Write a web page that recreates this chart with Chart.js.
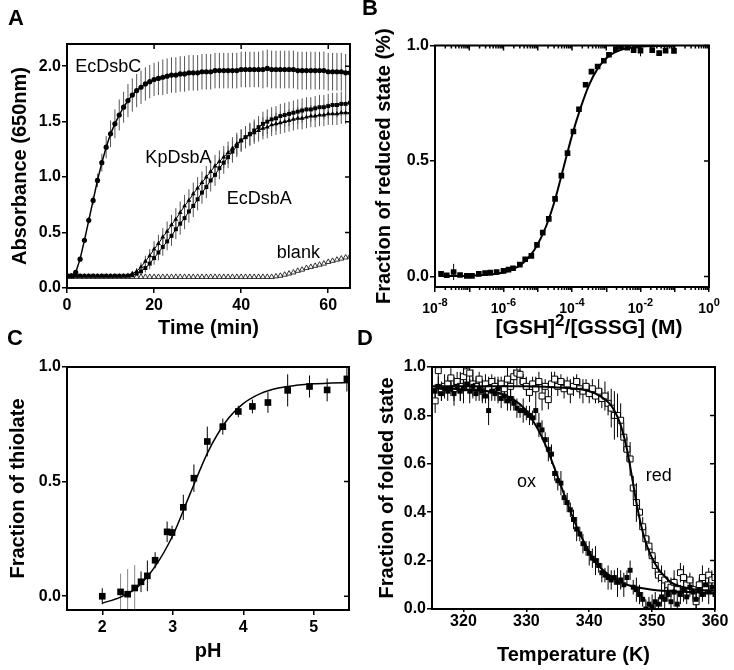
<!DOCTYPE html>
<html>
<head>
<meta charset="utf-8">
<script src="https://cdn.jsdelivr.net/npm/chart.js@4.4.1/dist/chart.umd.min.js"></script>
<style>
  body { margin: 0; background: #fff; width: 734px; height: 670px; position: relative; overflow: hidden; font-family: "Liberation Sans", Arial, sans-serif; }
  canvas { position: absolute; }
  .tag { position: absolute; font-weight: bold; font-size: 22px; line-height: 22px; color: #000; }
</style>
</head>
<body>
<canvas id="cA" width="367" height="340" style="left:0;top:0"></canvas>
<canvas id="cB" width="367" height="340" style="left:367px;top:0"></canvas>
<canvas id="cC" width="367" height="335" style="left:0;top:335px"></canvas>
<canvas id="cD" width="367" height="335" style="left:367px;top:335px"></canvas>
<div class="tag" style="left:8px;top:7px">A</div>
<div class="tag" style="left:362px;top:-3px">B</div>
<div class="tag" style="left:7px;top:327px">C</div>
<div class="tag" style="left:357px;top:327px">D</div>
<script>
const FONT = '"Liberation Sans", Arial, sans-serif';

// ---- A: absorbance at 650 nm vs time ----
const timeMin = [0,1,2,3,4,5,6,7,8,9,10,11,12,13,14,15,16,17,18,19,20,21,22,23,24,25,26,27,28,29,30,31,32,33,34,35,36,37,38,39,40,41,42,43,44,45,46,47,48,49,50,51,52,53,54,55,56,57,58,59,60,61,62,63,64,65];
const ecDsbC = [
  0.11,0.11,0.14,0.26,0.43,0.61,0.79,0.97,1.13,1.27,
  1.39,1.48,1.56,1.63,1.69,1.74,1.78,1.81,1.84,1.86,
  1.88,1.89,1.90,1.91,1.92,1.92,1.93,1.93,1.94,1.94,
  1.94,1.95,1.95,1.95,1.96,1.96,1.96,1.96,1.96,1.96,
  1.97,1.97,1.97,1.97,1.97,1.97,1.98,1.97,1.97,1.97,
  1.97,1.97,1.97,1.96,1.96,1.96,1.96,1.96,1.96,1.96,
  1.95,1.95,1.95,1.95,1.94,1.94];
const ecDsbCErr = [
  0.01,0.01,0.01,0.01,0.02,0.03,0.04,0.06,0.08,0.10,
  0.12,0.13,0.14,0.14,0.15,0.15,0.15,0.15,0.15,0.15,
  0.15,0.15,0.16,0.16,0.16,0.16,0.16,0.16,0.16,0.16,
  0.16,0.16,0.16,0.16,0.16,0.16,0.16,0.16,0.16,0.16,
  0.16,0.16,0.16,0.16,0.16,0.17,0.17,0.17,0.17,0.17,
  0.17,0.17,0.17,0.17,0.17,0.17,0.17,0.17,0.17,0.17,
  0.17,0.17,0.17,0.17,0.17,0.17];
const kpDsbA = [
  0.11,0.11,0.11,0.11,0.11,0.11,0.11,0.11,0.11,0.11,
  0.11,0.11,0.11,0.11,0.115,0.13,0.15,0.19,0.24,0.29,
  0.35,0.40,0.46,0.51,0.57,0.62,0.68,0.74,0.79,0.85,
  0.90,0.95,1.00,1.05,1.10,1.14,1.18,1.22,1.26,1.30,
  1.33,1.36,1.38,1.40,1.42,1.44,1.45,1.47,1.48,1.49,
  1.50,1.51,1.52,1.53,1.53,1.54,1.55,1.55,1.56,1.56,
  1.57,1.57,1.57,1.58,1.58,1.58];
const kpDsbAErr = [
  0.005,0.005,0.005,0.005,0.005,0.005,0.005,0.005,0.005,0.005,
  0.005,0.005,0.005,0.01,0.01,0.02,0.03,0.04,0.05,0.06,
  0.07,0.08,0.08,0.09,0.09,0.10,0.10,0.10,0.10,0.10,
  0.10,0.10,0.10,0.10,0.10,0.10,0.10,0.10,0.10,0.10,
  0.10,0.10,0.10,0.10,0.10,0.10,0.10,0.10,0.10,0.10,
  0.10,0.10,0.10,0.10,0.10,0.10,0.10,0.10,0.10,0.10,
  0.10,0.10,0.10,0.10,0.10,0.10];
const ecDsbA = [
  0.11,0.11,0.11,0.11,0.11,0.11,0.11,0.11,0.11,0.11,
  0.11,0.11,0.11,0.11,0.11,0.115,0.13,0.15,0.18,0.22,
  0.27,0.32,0.37,0.42,0.47,0.53,0.58,0.63,0.69,0.74,
  0.80,0.86,0.91,0.97,1.02,1.08,1.13,1.18,1.23,1.28,
  1.33,1.36,1.39,1.42,1.45,1.48,1.50,1.52,1.53,1.55,
  1.56,1.57,1.58,1.59,1.60,1.61,1.61,1.62,1.63,1.63,
  1.64,1.65,1.65,1.66,1.66,1.67];
const ecDsbAErr = [
  0.005,0.005,0.005,0.005,0.005,0.005,0.005,0.005,0.005,0.005,
  0.005,0.005,0.005,0.005,0.01,0.01,0.02,0.03,0.04,0.05,
  0.06,0.07,0.08,0.08,0.09,0.09,0.10,0.10,0.10,0.10,
  0.10,0.10,0.10,0.10,0.10,0.10,0.10,0.10,0.10,0.10,
  0.10,0.10,0.10,0.10,0.10,0.11,0.11,0.11,0.11,0.11,
  0.11,0.11,0.11,0.11,0.11,0.11,0.11,0.11,0.11,0.11,
  0.11,0.11,0.11,0.11,0.11,0.11];
const blank = [
  0.10,0.10,0.10,0.10,0.10,0.10,0.10,0.10,0.10,0.10,
  0.10,0.10,0.10,0.10,0.10,0.10,0.10,0.10,0.10,0.10,
  0.10,0.10,0.10,0.10,0.10,0.10,0.10,0.10,0.10,0.10,
  0.10,0.10,0.10,0.10,0.10,0.10,0.10,0.10,0.10,0.10,
  0.10,0.10,0.10,0.10,0.10,0.10,0.10,0.10,0.105,0.11,
  0.12,0.13,0.14,0.155,0.165,0.18,0.19,0.20,0.21,0.22,
  0.235,0.245,0.255,0.265,0.275,0.285];
const aXTicks = [0, 20, 40, 60];
const aYTicks = [0, 0.5, 1, 1.5, 2];

// ---- B: redox equilibrium with glutathione ----
const gshRatio = [1.5e-8,2.2e-8,3.5e-8,5.4e-8,8.5e-8,1.2e-7,1.9e-7,2.9e-7,4.1e-7,6.3e-7,
  1.0e-6,1.4e-6,1.9e-6,3.0e-6,4.3e-6,6.5e-6,9.5e-6,1.4e-5,2.1e-5,3.2e-5,
  4.9e-5,7.4e-5,1.1e-4,1.6e-4,2.5e-4,3.7e-4,5.6e-4,8.5e-4,1.2e-3,1.9e-3,
  2.7e-3,4.1e-3,6.3e-3,1.0e-2,2.2e-2,3.5e-2,5.4e-2,9.5e-2];
const reducedFrac = [0.012,0.006,0.02,0.007,0.003,0.003,0.012,0.015,0.017,0.02,
  0.025,0.03,0.036,0.052,0.075,0.09,0.137,0.19,0.25,0.336,
  0.437,0.534,0.628,0.724,0.83,0.887,0.909,0.934,0.96,0.984,
  0.996,0.991,0.98,0.978,0.98,0.967,0.978,0.977];
const reducedErr = [0.01,0.008,0.035,0.008,0.006,0.006,0.006,0.008,0.006,0.008,
  0.006,0.008,0.006,0.008,0.01,0.008,0.01,0.01,0.01,0.01,
  0.01,0.01,0.01,0.01,0.01,0.01,0.01,0.01,0.01,0.01,
  0.01,0.01,0.012,0.025,0.01,0.012,0.01,0.01];
const gshFitX = [1.3e-8,3.16e-8,1e-7,3.16e-7,1e-6,1.78e-6,3.16e-6,5.62e-6,1e-5,1.78e-5,3.16e-5,5.62e-5,
  1e-4,1.78e-4,3.16e-4,5.62e-4,1e-3,1.78e-3,3.16e-3,1e-2,3.16e-2,1e-1];
const gshFitY = [0.003,0.003,0.004,0.008,0.018,0.03,0.05,0.085,0.14,0.22,0.33,0.47,
  0.61,0.73,0.83,0.90,0.945,0.97,0.985,0.995,0.998,1.0];
const bDecades = [1e-8,1e-7,1e-6,1e-5,1e-4,1e-3,1e-2,1e-1,1];
const bYTicks = [0, 0.5, 1];

// ---- C: thiolate fraction vs pH ----
const phVals = [2.0,2.26,2.36,2.46,2.55,2.64,2.75,2.92,2.99,3.15,3.30,3.49,3.71,3.93,4.13,4.35,4.63,4.94,5.19,5.47];
const thiolate = [0.0,0.019,0.009,0.036,0.063,0.089,0.157,0.281,0.278,0.388,0.515,0.675,0.74,0.806,0.828,0.845,0.898,0.915,0.90,0.948];
const thiolateErr = [0.035,0.08,0.11,0.1,0.045,0.067,0.035,0.045,0.03,0.055,0.06,0.065,0.035,0.025,0.03,0.045,0.07,0.048,0.05,0.055];
const phFitX = [2.0,2.25,2.5,2.75,3.0,3.25,3.5,3.75,4.0,4.25,4.5,4.75,5.0,5.25,5.5];
const phFitY = [-0.03,-0.005,0.04,0.13,0.265,0.45,0.63,0.76,0.84,0.885,0.908,0.92,0.927,0.93,0.932];
const cXTicks = [2, 3, 4, 5];
const cYTicks = [0, 0.5, 1];

// ---- D: thermal unfolding, oxidised vs reduced ----
const tempK = [
  315.5,316,316.5,317,317.5,318,318.5,319,319.5,320,
  320.5,321,321.5,322,322.5,323,323.5,324,324.5,325,
  325.5,326,326.5,327,327.5,328,328.5,329,329.5,330,
  330.5,331,331.5,332,332.5,333,333.5,334,334.5,335,
  335.5,336,336.5,337,337.5,338,338.5,339,339.5,340,
  340.5,341,341.5,342,342.5,343,343.5,344,344.5,345,
  345.5,346,346.5,347,347.5,348,348.5,349,349.5,350,
  350.5,351,351.5,352,352.5,353,353.5,354,354.5,355,
  355.5,356,356.5,357,357.5,358,358.5,359,359.5,360];
const foldedOx = [
  0.90,0.92,0.89,0.91,0.90,0.91,0.89,0.92,0.90,0.91,
  0.93,0.90,0.92,0.89,0.91,0.90,0.88,0.82,0.90,0.89,
  0.91,0.87,0.88,0.86,0.87,0.85,0.83,0.82,0.82,0.81,
  0.80,0.79,0.82,0.76,0.74,0.70,0.66,0.64,0.56,0.53,
  0.52,0.46,0.44,0.41,0.37,0.33,0.31,0.27,0.25,0.23,
  0.21,0.20,0.18,0.15,0.14,0.13,0.12,0.13,0.11,0.12,
  0.10,0.13,0.16,0.09,0.08,0.06,0.04,0.00,0.02,0.01,
  0.03,0.02,0.05,0.04,0.06,0.03,0.07,0.02,0.06,0.08,
  0.05,0.09,0.07,0.04,0.08,0.06,0.10,0.07,0.09,0.06];
const foldedOxErr = [
  0.03,0.04,0.03,0.02,0.04,0.03,0.05,0.03,0.04,0.06,
  0.03,0.05,0.04,0.03,0.05,0.04,0.03,0.06,0.04,0.03,
  0.05,0.04,0.03,0.04,0.05,0.03,0.04,0.03,0.05,0.03,
  0.04,0.03,0.04,0.05,0.04,0.03,0.05,0.04,0.03,0.04,
  0.05,0.03,0.04,0.03,0.04,0.05,0.03,0.04,0.03,0.05,
  0.04,0.06,0.03,0.04,0.03,0.05,0.04,0.03,0.06,0.04,
  0.05,0.03,0.04,0.03,0.05,0.04,0.03,0.04,0.03,0.05,
  0.04,0.03,0.04,0.05,0.03,0.04,0.06,0.03,0.04,0.05,
  0.03,0.04,0.03,0.05,0.04,0.03,0.04,0.05,0.03,0.04];
const foldedRed = [
  0.86,0.985,0.90,0.92,0.93,0.955,0.91,0.94,0.92,0.96,
  0.98,0.975,0.93,0.92,0.95,0.90,0.93,0.91,0.94,0.92,
  0.90,0.93,0.91,0.95,0.92,0.96,0.975,0.97,0.94,0.92,
  0.895,0.93,0.91,0.94,0.88,0.92,0.865,0.93,0.95,0.92,
  0.94,0.91,0.93,0.90,0.92,0.94,0.91,0.90,0.92,0.89,
  0.91,0.88,0.90,0.87,0.88,0.85,0.83,0.80,0.80,0.78,
  0.71,0.66,0.62,0.50,0.44,0.40,0.34,0.29,0.26,0.22,
  0.18,0.14,0.13,0.12,0.10,0.09,0.11,0.08,0.15,0.13,
  0.10,0.12,0.08,0.03,0.10,0.13,0.09,0.14,0.12,0.13];
const foldedRedErr = [
  0.05,0.06,0.04,0.05,0.03,0.04,0.05,0.04,0.06,0.05,
  0.04,0.05,0.06,0.04,0.03,0.05,0.04,0.05,0.03,0.04,
  0.05,0.03,0.04,0.05,0.04,0.03,0.05,0.04,0.03,0.04,
  0.04,0.03,0.05,0.04,0.06,0.03,0.04,0.05,0.03,0.04,
  0.03,0.04,0.03,0.05,0.04,0.03,0.04,0.05,0.03,0.04,
  0.04,0.03,0.05,0.04,0.06,0.05,0.08,0.10,0.09,0.07,
  0.06,0.05,0.07,0.05,0.08,0.05,0.04,0.05,0.04,0.03,
  0.04,0.03,0.05,0.04,0.03,0.04,0.05,0.03,0.04,0.05,
  0.04,0.03,0.05,0.04,0.03,0.05,0.04,0.03,0.04,0.03];
const oxFitT = [315,318,321,324,326,328,330,331,332,333,334,335,336,337,338,339,340,341,342,344,346,348,350,354,360];
const oxFitY = [0.91,0.91,0.905,0.90,0.89,0.865,0.82,0.78,0.735,0.68,0.615,0.545,0.475,0.405,0.34,0.285,0.235,0.195,0.165,0.125,0.10,0.088,0.08,0.072,0.065];
const redFitT = [315,320,325,330,335,338,340,341,342,343,344,345,346,346.5,347,347.5,348,348.5,349,349.5,350,351,352,353,355,357,360];
const redFitY = [0.92,0.92,0.92,0.92,0.915,0.91,0.90,0.89,0.875,0.855,0.82,0.76,0.66,0.59,0.515,0.44,0.375,0.32,0.275,0.24,0.21,0.165,0.135,0.11,0.09,0.08,0.075];
const dXTicks = [320, 330, 340, 350, 360];
const dYTicks = [0, 0.2, 0.4, 0.6, 0.8, 1];

const pts = (xs, ys) => xs.map((x, i) => ({ x, y: ys[i] }));

// draw a run of text pieces, each {text, size, rise}, centred on cx
function drawPieces(ctx, pieces, cx, baseline) {
  const widths = pieces.map(p => { ctx.font = 'bold ' + p.size + 'px ' + FONT; return ctx.measureText(p.text).width; });
  let x = cx - widths.reduce((s, w) => s + w, 0) / 2;
  ctx.textAlign = 'left';
  ctx.textBaseline = 'alphabetic';
  pieces.forEach((p, i) => {
    ctx.font = 'bold ' + p.size + 'px ' + FONT;
    ctx.fillText(p.text, x, baseline - (p.rise || 0));
    x += widths[i];
  });
}

// error bars under the markers; box frame, mirrored ticks and in-plot text on top
const figureExtras = {
  id: 'figureExtras',
  beforeDatasetsDraw(chart) {
    const { ctx, chartArea: a, scales } = chart;
    ctx.save();
    ctx.beginPath();
    ctx.rect(a.left, a.top, a.right - a.left, a.bottom - a.top);
    ctx.clip();
    chart.data.datasets.forEach((ds, i) => {
      if (!ds.errors) return;
      const meta = chart.getDatasetMeta(i);
      ctx.lineWidth = ds.errorWidth || 1;
      meta.data.forEach((pt, j) => {
        const e = ds.errors[j];
        if (!e) return;
        const v = ds.data[j].y;
        ctx.strokeStyle = typeof ds.errorColor === 'function' ? ds.errorColor(ds.data[j]) : (ds.errorColor || '#000');
        ctx.beginPath();
        ctx.moveTo(pt.x, scales.y.getPixelForValue(v - e));
        ctx.lineTo(pt.x, scales.y.getPixelForValue(v + e));
        ctx.stroke();
      });
    });
    ctx.restore();
  },
  afterDraw(chart, args, opts) {
    const { ctx, chartArea: a, scales } = chart;
    ctx.save();
    ctx.strokeStyle = '#000';
    ctx.lineWidth = 1.5;
    ctx.beginPath();
    if (opts.top) {
      scales.x.ticks.forEach(t => {
        const x = scales.x.getPixelForValue(t.value);
        ctx.moveTo(x, a.top);
        ctx.lineTo(x, a.top + 5);
      });
    }
    if (opts.right) {
      scales.y.ticks.forEach(t => {
        const y = scales.y.getPixelForValue(t.value);
        ctx.moveTo(a.right, y);
        ctx.lineTo(a.right - 5, y);
      });
    }
    (opts.minorX || []).forEach(v => {
      const x = scales.x.getPixelForValue(v);
      ctx.moveTo(x, a.bottom);
      ctx.lineTo(x, a.bottom + 3);
      if (opts.top) {
        ctx.moveTo(x, a.top);
        ctx.lineTo(x, a.top + 3);
      }
    });
    ctx.stroke();
    ctx.lineWidth = 2;
    ctx.strokeRect(a.left, a.top, a.right - a.left, a.bottom - a.top);
    ctx.fillStyle = '#000';
    ctx.font = '18px ' + FONT;
    ctx.textAlign = 'left';
    ctx.textBaseline = 'alphabetic';
    (opts.notes || []).forEach(n => {
      ctx.fillText(n.text, scales.x.getPixelForValue(n.x), scales.y.getPixelForValue(n.y));
    });
    // powers of ten under a log axis, labelled every other decade
    if (opts.powerLabels) {
      scales.x.ticks.forEach(t => {
        const e = Math.round(Math.log10(t.value));
        if (e % 2 !== 0) return;
        drawPieces(ctx, [{ text: '10', size: 14 }, { text: String(e), size: 11, rise: 7 }],
          scales.x.getPixelForValue(t.value), a.bottom + 26);
      });
    }
    if (opts.xTitle) {
      drawPieces(ctx, opts.xTitle, (a.left + a.right) / 2 + 17, a.bottom + 47);
    }
    ctx.restore();
  },
};

function axis(o) {
  return {
    type: o.type || 'linear',
    min: o.min,
    max: o.max,
    afterBuildTicks: s => { s.ticks = o.ticks.map(v => ({ value: v })); },
    afterFit: s => {
      if (s.isHorizontal()) s.height = o.size; else s.width = o.size;
      s.paddingLeft = 0; s.paddingRight = 0; s.paddingTop = 0; s.paddingBottom = 0;
    },
    ticks: {
      autoSkip: false,
      maxRotation: 0,
      padding: o.tickPad ?? 2,
      color: '#000',
      font: { family: FONT, size: o.tickSize || 16, weight: 'bold' },
      callback: o.fmt || (v => String(v)),
    },
    grid: { drawOnChartArea: false, drawTicks: true, tickLength: o.tickLen ?? 5, color: '#000', lineWidth: 1.5 },
    border: { display: false },
    title: { display: !!o.title, text: o.title || '', color: '#000', font: { family: FONT, size: 20, weight: 'bold' }, padding: o.titlePad },
  };
}

function panel(id, padding, scales, datasets, extras) {
  return new Chart(document.getElementById(id), {
    type: 'scatter',
    data: { datasets },
    options: {
      responsive: false,
      animation: false,
      layout: { padding },
      scales,
      plugins: { legend: { display: false }, tooltip: { enabled: false }, figureExtras: extras },
    },
    plugins: [figureExtras],
  });
}

const oneDec = v => v.toFixed(1);

// A
panel('cA', { top: 44, right: 17, left: 0, bottom: 0 }, {
  x: axis({ min: 0, max: 65, ticks: aXTicks, size: 52, tickPad: 3, title: 'Time (min)', titlePad: { top: 0, bottom: 0 } }),
  y: axis({ min: 0, max: 2.2, ticks: aYTicks, size: 67, tickPad: 1, fmt: oneDec, title: 'Absorbance (650nm)', titlePad: { top: 8, bottom: 0 } }),
}, [
  { data: pts(timeMin, ecDsbC), errors: ecDsbCErr, errorColor: '#555', showLine: true, borderColor: '#000', borderWidth: 1.5,
    pointStyle: 'circle', pointRadius: 2.6, pointBackgroundColor: '#000', pointBorderWidth: 0 },
  { data: pts(timeMin, ecDsbA), errors: ecDsbAErr, errorColor: '#555', showLine: true, borderColor: '#000', borderWidth: 1,
    pointStyle: 'rect', pointRadius: 2.8, pointBackgroundColor: '#000', pointBorderWidth: 0 },
  { data: pts(timeMin, kpDsbA), errors: kpDsbAErr, errorColor: '#555', showLine: true, borderColor: '#000', borderWidth: 1,
    pointStyle: 'triangle', pointRadius: 2.8, pointBackgroundColor: '#000', pointBorderWidth: 0 },
  { data: pts(timeMin, blank), showLine: false, pointStyle: 'triangle', pointRadius: 3,
    pointBackgroundColor: '#fff', pointBorderColor: '#000', pointBorderWidth: 0.8 },
], {
  top: true, right: true,
  notes: [
    { text: 'EcDsbC', x: 1.9, y: 1.95 },
    { text: 'KpDsbA', x: 18, y: 1.13 },
    { text: 'EcDsbA', x: 36.7, y: 0.76 },
    { text: 'blank', x: 48.2, y: 0.272 },
  ],
});

// B
const bMinor = [];
bDecades.slice(0, -1).forEach(d => { for (let k = 2; k <= 9; k++) bMinor.push(d * k); });
panel('cB', { top: 45.5, right: 25, left: 0, bottom: 0 }, {
  x: axis({ type: 'logarithmic', min: 1e-8, max: 1, ticks: bDecades, size: 53, fmt: () => '' }),
  y: axis({ min: -0.045, max: 1, ticks: bYTicks, size: 68, tickPad: 1, fmt: oneDec, title: 'Fraction of reduced state (%)', titlePad: { top: 5.5, bottom: 0 } }),
}, [
  { data: pts(gshRatio, reducedFrac), errors: reducedErr, errorColor: '#000', showLine: false,
    pointStyle: 'rect', pointRadius: 4, pointBackgroundColor: '#000', pointBorderWidth: 0 },
  { data: pts(gshFitX, gshFitY), showLine: true, borderColor: '#000', borderWidth: 2, pointRadius: 0, cubicInterpolationMode: 'monotone' },
], {
  top: true, right: true, minorX: bMinor, powerLabels: true,
  xTitle: [{ text: '[GSH]', size: 21 }, { text: '2', size: 17, rise: 8 }, { text: '/[GSSG] (M)', size: 21 }],
});

// C
panel('cC', { top: 32, right: 18, left: 0, bottom: 0 }, {
  x: axis({ min: 1.5, max: 5.5, ticks: cXTicks, size: 60, tickPad: 3, title: 'pH', titlePad: { top: 0, bottom: 7 } }),
  y: axis({ min: -0.06, max: 1, ticks: cYTicks, size: 67, tickPad: 1, fmt: oneDec, title: 'Fraction of thiolate', titlePad: { top: 6.5, bottom: 0 } }),
}, [
  { data: pts(phVals, thiolate), errors: thiolateErr, errorColor: p => (p.x > 2.2 && p.x < 2.5 ? '#888' : '#000'), showLine: false,
    pointStyle: 'rect', pointRadius: 4.7, pointBackgroundColor: '#000', pointBorderWidth: 0 },
  { data: pts(phFitX, phFitY), showLine: true, borderColor: '#000', borderWidth: 1.5, pointRadius: 0, cubicInterpolationMode: 'monotone' },
], { right: true });

// D
panel('cD', { top: 32, right: 19, left: 0, bottom: 0 }, {
  x: axis({ min: 315, max: 360, ticks: dXTicks, size: 61, tickPad: 0, tickLen: 3, title: 'Temperature (K)', titlePad: { top: 0, bottom: 3 } }),
  y: axis({ min: 0, max: 1, ticks: dYTicks, size: 65, tickPad: 1, fmt: oneDec, title: 'Fraction of folded state', titlePad: { top: 8, bottom: 0 } }),
}, [
  { data: pts(oxFitT, oxFitY), showLine: true, borderColor: '#000', borderWidth: 2, pointRadius: 0, cubicInterpolationMode: 'monotone' },
  { data: pts(redFitT, redFitY), showLine: true, borderColor: '#000', borderWidth: 2, pointRadius: 0, cubicInterpolationMode: 'monotone' },
  { data: pts(tempK, foldedOx), errors: foldedOxErr, errorColor: '#000', showLine: false,
    pointStyle: 'rect', pointRadius: 3.5, pointBackgroundColor: '#000', pointBorderWidth: 0 },
  { data: pts(tempK, foldedRed), errors: foldedRedErr, errorColor: '#000', showLine: false,
    pointStyle: 'rect', pointRadius: 4.2, pointBackgroundColor: '#fff', pointBorderColor: '#000', pointBorderWidth: 1 },
], {
  right: true,
  notes: [
    { text: 'ox', x: 328.5, y: 0.505 },
    { text: 'red', x: 349, y: 0.527 },
  ],
});
</script>
</body>
</html>
